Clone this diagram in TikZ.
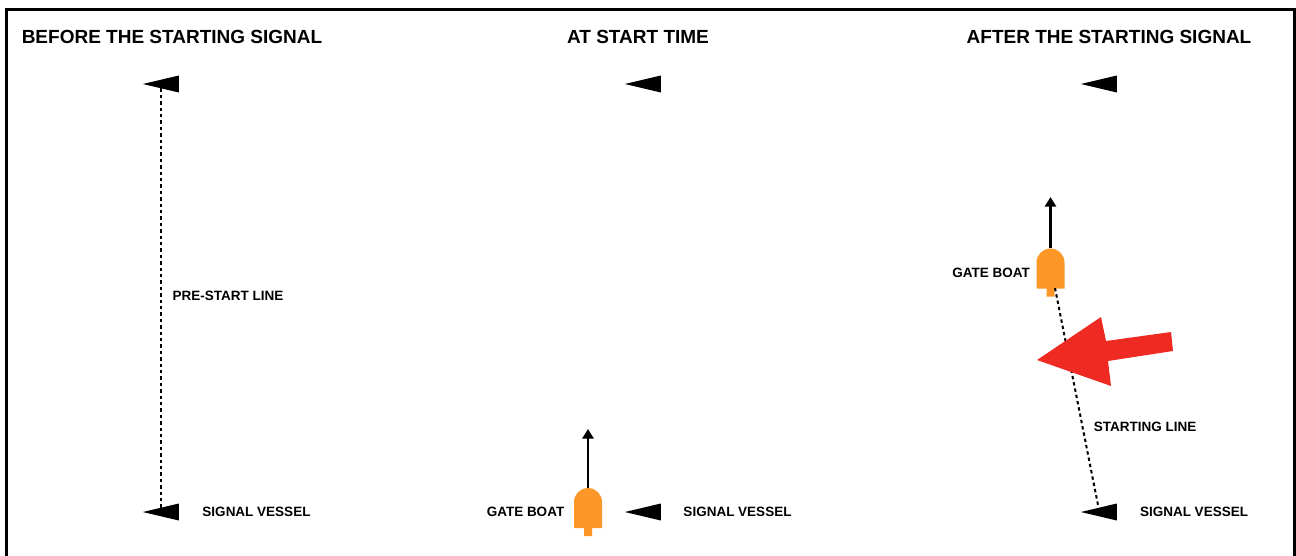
\documentclass[tikz,border=0pt]{standalone}
\usepackage{fontspec}
\setmainfont{Liberation Sans}
\usepackage{xcolor}
\usetikzlibrary{arrows.meta,positioning,shapes.geometric}
\definecolor{boatorange}{HTML}{FD9727}
\definecolor{bigred}{HTML}{EE2A22}

\begin{document}
\begin{tikzpicture}[x=1pt,y=-1pt,
  heading/.style={font=\bfseries\fontsize{19}{22}\selectfont, inner sep=0pt},
  tag/.style={font=\bfseries\fontsize{13.5}{15}\selectfont, inner sep=0pt},
  flag/.style={isosceles triangle, isosceles triangle apex angle=27, isosceles triangle stretches, shape border rotate=180, fill=black, inner sep=0pt, minimum width=17pt, minimum height=36pt, anchor=apex},
  boat/.style={minimum width=28pt, minimum height=48pt, inner sep=0pt, path picture={
    \fill[boatorange] ([xshift=-14pt,yshift=8pt]path picture bounding box.south) -- ([xshift=-14pt,yshift=-14pt]path picture bounding box.north) arc[start angle=180,end angle=0,radius=14pt] -- ([xshift=14pt,yshift=8pt]path picture bounding box.south) -- ([xshift=4pt,yshift=8pt]path picture bounding box.south) -- ([xshift=4pt]path picture bounding box.south) -- ([xshift=-4pt]path picture bounding box.south) -- ([xshift=-4pt,yshift=8pt]path picture bounding box.south) -- cycle;}},
  course/.style={-{Triangle[length=9.5pt,width=11pt]}, line width=2.5pt},
  dashline/.style={line width=2pt, dash pattern=on 3.4pt off 3pt}
]
\useasboundingbox (0,0) rectangle (1296,555);
\draw[line width=3pt] (6,9) rectangle (1294,570);
\node[heading] (before) at (172,37) {BEFORE THE STARTING SIGNAL};
\node[heading] (atstart) at (638,37) {AT START TIME};
\node[heading] (after) at (1109,37) {AFTER THE STARTING SIGNAL};
\node[flag] (pinA) at (142,84) {};
\node[flag] (pinB) at (624,84) {};
\node[flag] (pinC) at (1080,84) {};
\node[flag] (vesselA) at (142,512) {};
\node[flag] (vesselB) at (624,512) {};
\node[flag] (vesselC) at (1080,512) {};
\node[tag] (vesseltextA) at (256.5,511.5) {SIGNAL VESSEL};
\node[tag] (vesseltextB) at (737.5,511.5) {SIGNAL VESSEL};
\node[tag] (vesseltextC) at (1194,511.5) {SIGNAL VESSEL};
\node[tag] (prestart) at (228,296) {PRE-START LINE};
\node[boat] (gateB) at (588,512) {};
\node[boat] (gateC) at (1050.5,272.5) {};
\node[tag] (gatetextB) at (525.5,511.5) {GATE BOAT};
\node[tag] (gatetextC) at (991,272.5) {GATE BOAT};
\node[tag] (startline) at (1145,427) {STARTING LINE};
\coordinate (tipB) at (588,429);
\coordinate (tipC) at (1050.5,197);
\coordinate (sternC) at (1055,288);
\draw[dashline] (pinA.left side) -- (vesselA.right side);
\draw[dashline] (sternC) -- (vesselC.right side);
\draw[course] (gateB.north) -- (tipB);
\draw[course] (gateC.north) -- (tipC);
\fill[bigred] (1037,360) -- (1101,317) -- (1106,341) -- (1171,332) -- (1173,351) -- (1108,361) -- (1111,386) -- cycle;
\end{tikzpicture}
\end{document}
